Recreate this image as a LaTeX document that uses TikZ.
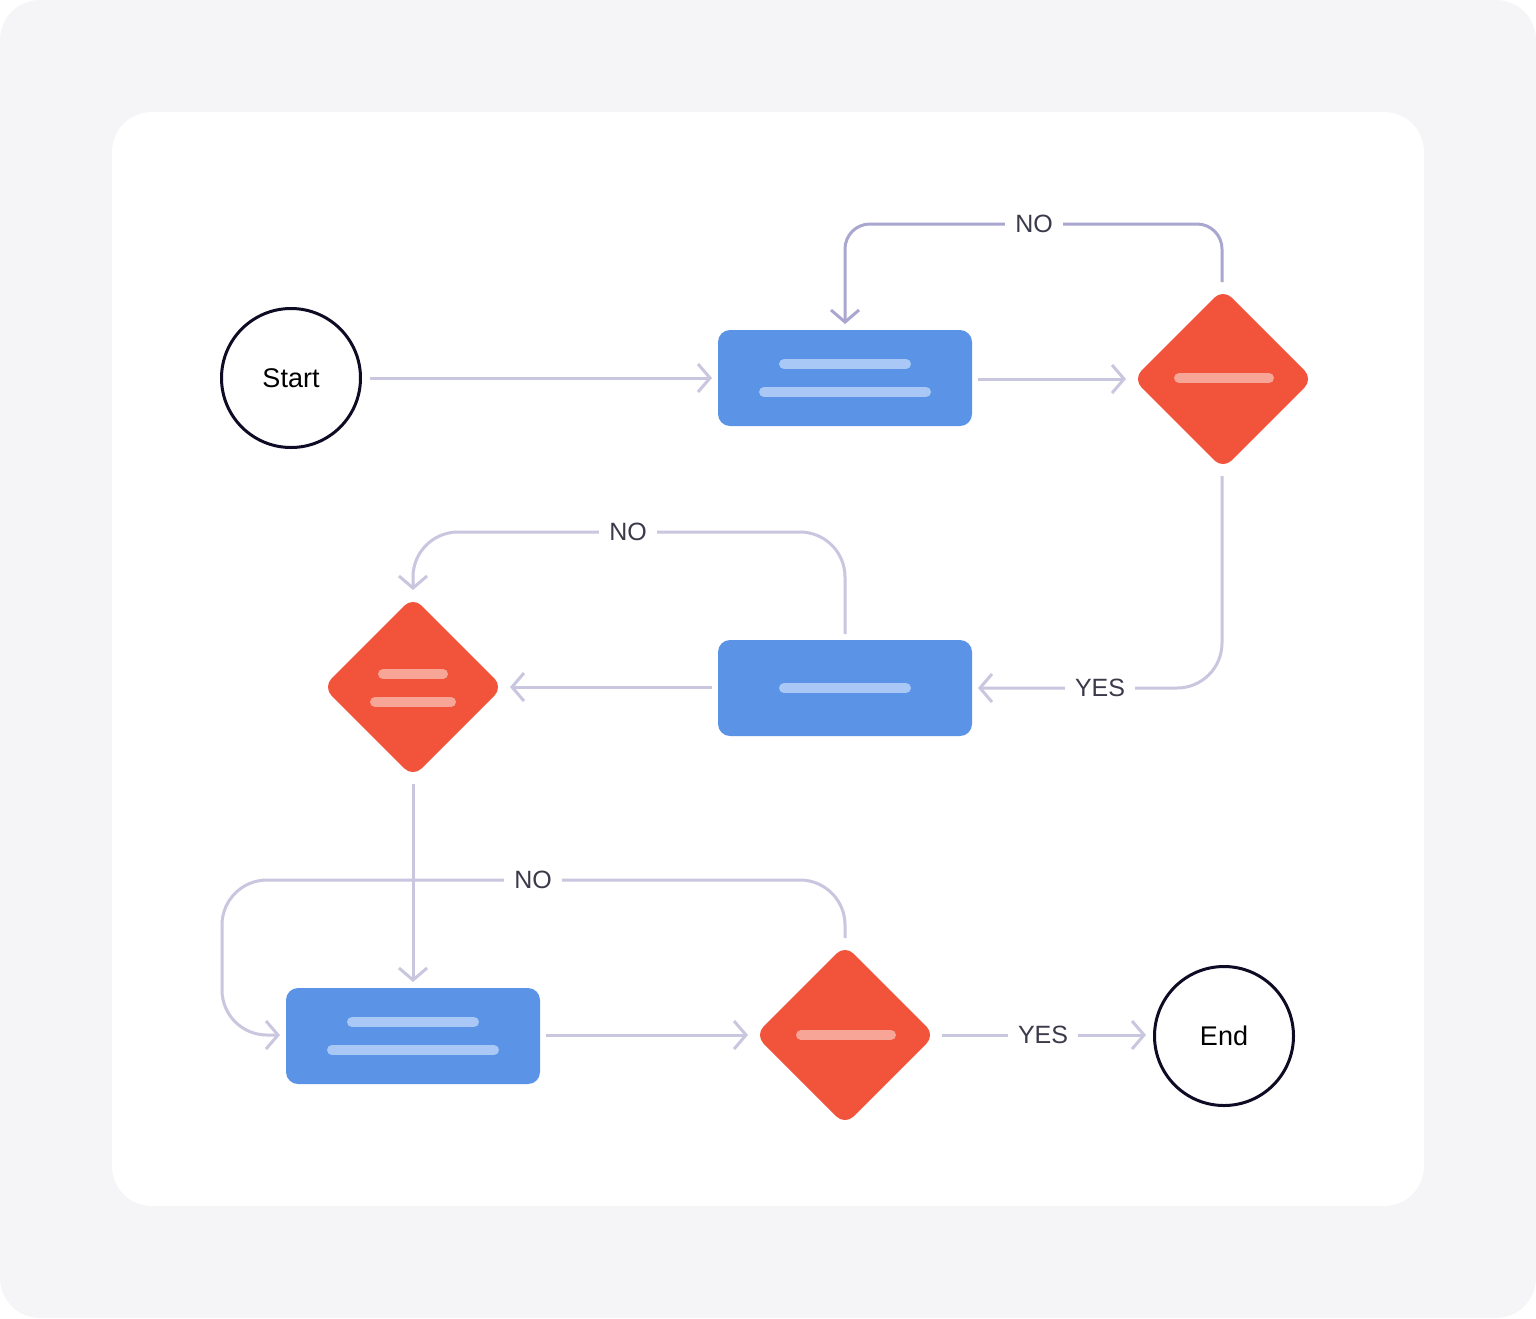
\documentclass[tikz,border=0pt]{standalone}
\usepackage{fontspec}
\setmainfont{Liberation Sans}
\usetikzlibrary{arrows.meta}
\definecolor{bgc}{HTML}{F5F5F7}
\definecolor{bluebox}{HTML}{5B94E6}
\definecolor{bluebar}{HTML}{A9C8F5}
\definecolor{redd}{HTML}{F2533B}
\definecolor{redbar}{HTML}{F7A597}
\definecolor{conn}{HTML}{C9C6E0}
\definecolor{conndark}{HTML}{A9A6CF}
\definecolor{navy}{HTML}{0E0C24}
\definecolor{txt}{HTML}{3A3A4A}
\begin{document}
\begin{tikzpicture}[x=1pt,y=-1pt,
  box/.style={fill=bluebox,rounded corners=12pt},
  bar/.style={line width=10pt,line cap=round},
  term/.style={circle,draw=navy,line width=3pt,minimum size=139pt,inner sep=0pt,font=\fontsize{27}{30}\selectfont},
  con/.style={draw=conn,line width=3pt,rounded corners=45pt,-{Straight Barb[length=12pt,width=28pt,line width=3pt]}},
  lab/.style={fill=white,inner xsep=10pt,inner ysep=2pt,text=txt,font=\fontsize{25}{28}\selectfont}]
\useasboundingbox (0,0) rectangle (1536,1318);
\fill[bgc,rounded corners=40pt] (0,0) rectangle (1536,1318);
\fill[white,rounded corners=40pt] (112,112) rectangle (1424,1206);
% nodes
\node[term] (start) at (291,378) {Start};
\node[term] (end) at (1224,1036) {End};
\fill[box] (718,330) rectangle (972,426);
\draw[bar,bluebar] (784,364) -- (906,364) (764,392) -- (926,392);
\coordinate (b1) at (845,378);
\fill[box] (718,640) rectangle (972,736);
\draw[bar,bluebar] (784,688) -- (906,688);
\coordinate (b2) at (845,688);
\fill[box] (286,988) rectangle (540,1084);
\draw[bar,bluebar] (352,1022) -- (474,1022) (332,1050) -- (494,1050);
\coordinate (b3) at (413,1036);
\fill[redd,rounded corners=12pt] (1223,289) -- (1313,379) -- (1223,469) -- (1133,379) -- cycle;
\draw[bar,redbar] (1179,378) -- (1269,378);
\fill[redd,rounded corners=12pt] (413,597) -- (503,687) -- (413,777) -- (323,687) -- cycle;
\draw[bar,redbar] (383,674) -- (443,674) (375,702) -- (451,702);
\fill[redd,rounded corners=12pt] (845,945) -- (935,1035) -- (845,1125) -- (755,1035) -- cycle;
\draw[bar,redbar] (801,1035) -- (891,1035);
% connectors
\coordinate (c1) at (370,378); \coordinate (c2) at (712,378);
\draw[con] (c1) -- (c2);
\coordinate (c3) at (978,379); \coordinate (c4) at (1126,379);
\draw[con] (c3) -- (c4);
\coordinate (c5) at (1222,282); \coordinate (c6) at (845,324);
\draw[con,draw=conndark,rounded corners=25pt,-{Straight Barb[length=12pt,width=28pt,line width=3pt]}] (c5) -- (1222,224) -- (845,224) -- (c6);
\node[lab] (n1) at (1034,224) {NO};
\coordinate (c7) at (1222,476); \coordinate (c8) at (978,688);
\draw[con] (c7) -- (1222,688) -- (c8);
\node[lab] (y1) at (1100,688) {YES};
\coordinate (c9) at (712,687); \coordinate (c10) at (510,687);
\draw[con] (c9) -- (c10);
\coordinate (c11) at (845,634); \coordinate (c12) at (413,590);
\draw[con] (c11) -- (845,532) -- (413,532) -- (c12);
\node[lab] (n2) at (628,532) {NO};
\coordinate (c13) at (845,938); \coordinate (c14) at (280,1035);
\draw[con] (c13) -- (845,880) -- (222,880) -- (222,1035) -- (c14);
\node[lab] (n3) at (533,880) {NO};
\coordinate (c15) at (413,784); \coordinate (c16) at (413,982);
\draw[con,rounded corners=0pt] (c15) -- (c16);
\coordinate (c17) at (546,1035); \coordinate (c18) at (748,1035);
\draw[con] (c17) -- (c18);
\coordinate (c19) at (942,1035); \coordinate (c20) at (1146,1035);
\draw[con] (c19) -- (c20);
\node[lab] (y2) at (1043,1035) {YES};
\end{tikzpicture}
\end{document}
